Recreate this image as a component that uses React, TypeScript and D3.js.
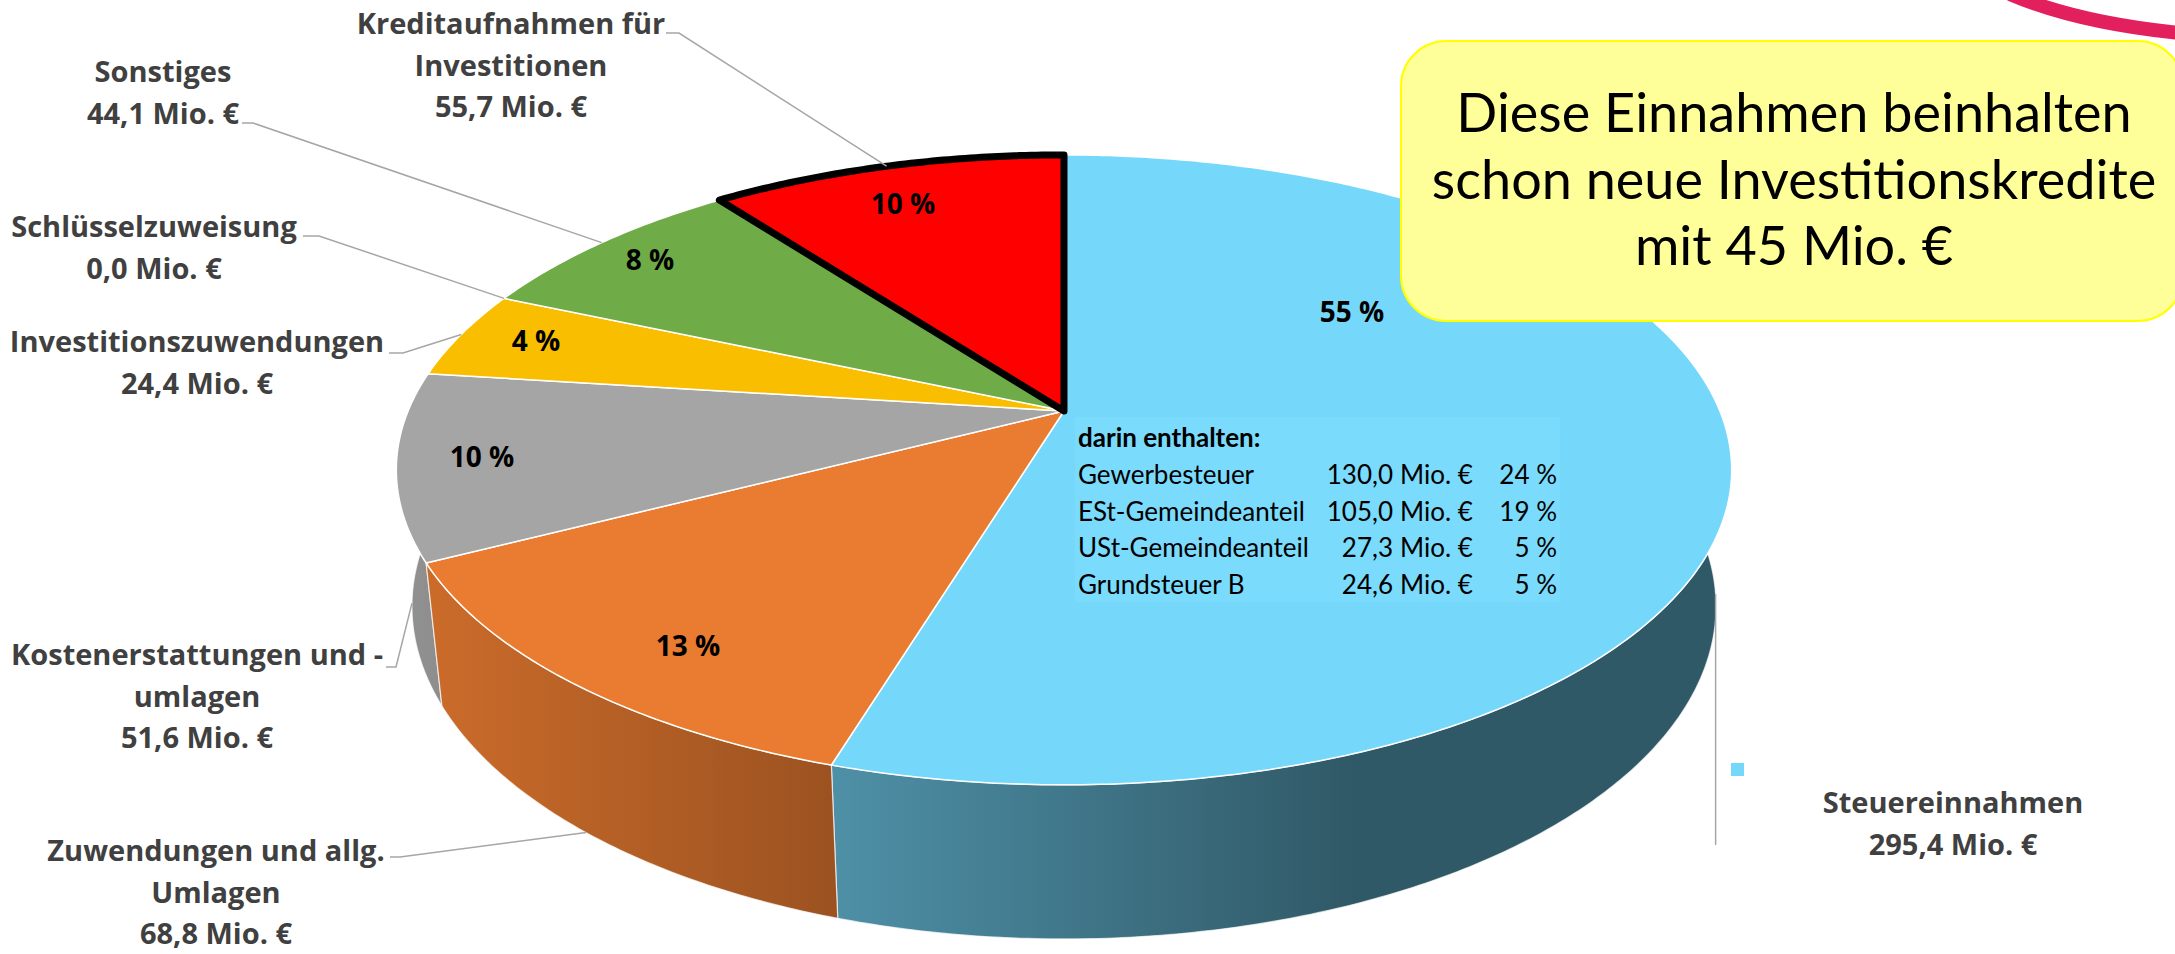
import React from 'react';
import * as d3 from 'd3';

// Einnahmen (Mio. €), clockwise from 12 o'clock
const categories = [
  'Steuereinnahmen',
  'Zuwendungen und allg.\nUmlagen',
  'Kostenerstattungen und -\numlagen',
  'Investitionszuwendungen',
  'Schlüsselzuweisung',
  'Sonstiges',
  'Kreditaufnahmen für\nInvestitionen',
];
const values = [295.4, 68.8, 51.6, 24.4, 0.0, 44.1, 55.7];
const percentLabels = ['55 %', '13 %', '10 %', '4 %', '', '8 %', '10 %'];
const sliceColors = ['#75D8FA', '#EA7C31', '#A5A5A5', '#FABE00', '#5B9BD5', '#6FAC47', '#FF0000'];

// "darin enthalten" table
const taxItems = ['Gewerbesteuer', 'ESt-Gemeindeanteil', 'USt-Gemeindeanteil', 'Grundsteuer B'];
const taxValues = [130.0, 105.0, 27.3, 24.6];
const taxShares = [24, 19, 5, 5];

const calloutLines = ['Diese Einnahmen beinhalten', 'schon neue Investitionskredite', 'mit 45 Mio. €'];

// layout: label centre x / first baseline, leader elbow points, percent label spots
const labelPos = [[1953, 813], [216, 861], [197, 665], [197, 352], [154, 237], [163, 82], [511, 34]];
const leaderElbows = [[], [[390, 857], [400, 857]], [[386, 667], [396, 667]], [[389, 353], [403, 353]],
  [[303, 236], [319, 236]], [[242, 123], [253, 123]], [[666, 33], [679, 33]]];
const pctPos = [[1352, 322], [688, 656], [482, 467], [536, 351], null, [650, 270], [903, 214]];

const W = 2175, HGT = 954;
// perspective of the 3d pie
const CX = 1064, CY = 411;
const FOC = 3109, DIST = 4.74, SIN_T = 0.4634, COS_T = 0.886, DEPTH = 0.2367;

function project(theta: number, r: number, y: number): [number, number] {
  const x = r * Math.sin(theta);
  const z = -r * Math.cos(theta);
  const yc = -z * SIN_T + y * COS_T;
  const zc = z * COS_T + y * SIN_T;
  const s = FOC / (DIST - zc);
  return [CX + x * s, CY - yc * s];
}

const fmt = d3.formatLocale({ decimal: ',', thousands: '.', grouping: [3], currency: ['', ' €'] }).format(',.1f');
const shade = (c: string, f: number) => {
  const r = d3.rgb(c);
  return d3.rgb(r.r * f, r.g * f, r.b * f).formatHex();
};

export default function App() {
  const arcs = d3.pie<number>().sort(null).value(d => d)(values);
  const line = d3.line();

  const rim = (a0: number, a1: number, y: number) => {
    const n = Math.max(2, Math.ceil((a1 - a0) / 0.01));
    return d3.range(n + 1).map(i => project(a0 + (a1 - a0) * i / n, 1, y));
  };
  const topPath = (a: any) => line([project(0, 0, 0), ...rim(a.startAngle, a.endAngle, 0)]) + 'Z';
  const wallPath = (a: any) =>
    line([...rim(a.startAngle, a.endAngle, 0), ...rim(a.startAngle, a.endAngle, -DEPTH).reverse()]) + 'Z';

  const mid = (a: any) => (a.startAngle + a.endAngle) / 2;
  const wallOrder = arcs
    .map((a, i) => ({ a, i }))
    .filter(d => d.a.endAngle > d.a.startAngle)
    .sort((p, q) => -Math.cos(mid(p.a)) - -Math.cos(mid(q.a)));

  const anchor = (a: any): [number, number] => {
    const m = mid(a);
    return -Math.cos(m) > 0 ? project(m, 1, -DEPTH) : project(m, 1, 0);
  };

  const labelFont = '"Open Sans", "Noto Sans", sans-serif';
  const font = 'Lato, "Open Sans", sans-serif';

  return (
    <svg width={W} height={HGT} style={{ position: 'absolute', left: 0, top: 0, display: 'block', background: '#fff' }}>
      <defs>
        {sliceColors.map((c, i) => (
          <linearGradient key={i} id={`wall${i}`} gradientUnits="userSpaceOnUse" x1={400} x2={1350} y1={0} y2={0}>
            <stop offset="0" stopColor={shade(c, 0.88)} />
            <stop offset="1" stopColor={shade(c, 0.41)} />
          </linearGradient>
        ))}
      </defs>

      {/* side walls, back to front */}
      {wallOrder.map(({ a, i }) => (
        <path key={`w${i}`} d={wallPath(a)} fill={`url(#wall${i})`} stroke="#ffffff" strokeOpacity={0.7} strokeWidth={1.2} />
      ))}

      {/* top faces */}
      {arcs.map((a, i) => a.endAngle > a.startAngle && i !== 6 && (
        <path key={`t${i}`} d={topPath(a)} fill={sliceColors[i]} stroke="#ffffff" strokeWidth={1.5} strokeLinejoin="round" />
      ))}
      <path d={topPath(arcs[6])} fill={sliceColors[6]} stroke="#000" strokeWidth={7} strokeLinejoin="round" />

      {/* darin enthalten box */}
      <rect x={1075} y={417} width={485} height={185} fill="#7ADBFC" />
      <text x={1078} y={447} fontFamily={font} fontSize={26} fontWeight={700} fill="#000">darin enthalten:</text>
      {taxItems.map((t, i) => (
        <g key={t} fontFamily={font} fontSize={26} fill="#000">
          <text x={1078} y={484 + i * 36.5}>{t}</text>
          <text x={1393} y={484 + i * 36.5} textAnchor="end">{fmt(taxValues[i])}</text>
          <text x={1400} y={484 + i * 36.5}>Mio. €</text>
          <text x={1557} y={484 + i * 36.5} textAnchor="end">{taxShares[i]} %</text>
        </g>
      ))}

      {/* percent labels */}
      {arcs.map((a, i) => pctPos[i] && (
        <text key={`p${i}`} x={pctPos[i]![0]} y={pctPos[i]![1]} textAnchor="middle" fontFamily={labelFont}
          fontSize={28} fontWeight={700} fill="#000">{percentLabels[i]}</text>
      ))}

      {/* leader lines */}
      {arcs.map((a, i) => {
        const p = anchor(a);
        const pts: [number, number][] = i === 0
          ? [p, [p[0], 845]]
          : [...(leaderElbows[i] as [number, number][]), p];
        return <path key={`l${i}`} d={line(pts)!} fill="none" stroke="#A6A6A6" strokeWidth={1.5} />;
      })}
      <rect x={1731} y={763} width={13} height={13} fill={sliceColors[0]} />

      {/* category labels */}
      {categories.map((c, i) => {
        const lines = [...c.split('\n'), `${fmt(values[i])} Mio. €`];
        return (
          <text key={`c${i}`} textAnchor="middle" fontFamily={labelFont} fontSize={29} fontWeight={700} fill="#404040">
            {lines.map((l, j) => (
              <tspan key={j} x={labelPos[i][0]} y={labelPos[i][1] + j * 41.5}>{l}</tspan>
            ))}
          </text>
        );
      })}

      {/* callout */}
      <rect x={1401} y={41} width={782} height={280} rx={45} fill="#FFFF99" stroke="#FFFF00" strokeWidth={2} />
      {calloutLines.map((l, i) => (
        <text key={l} x={1794} y={132 + i * 66.5} textAnchor="middle" fontFamily={font} fontSize={54} fill="#000">{l}</text>
      ))}
      <path d="M2010,-6 Q2080,24 2190,34" fill="none" stroke="#E3205E" strokeWidth={14} />
    </svg>
  );
}
